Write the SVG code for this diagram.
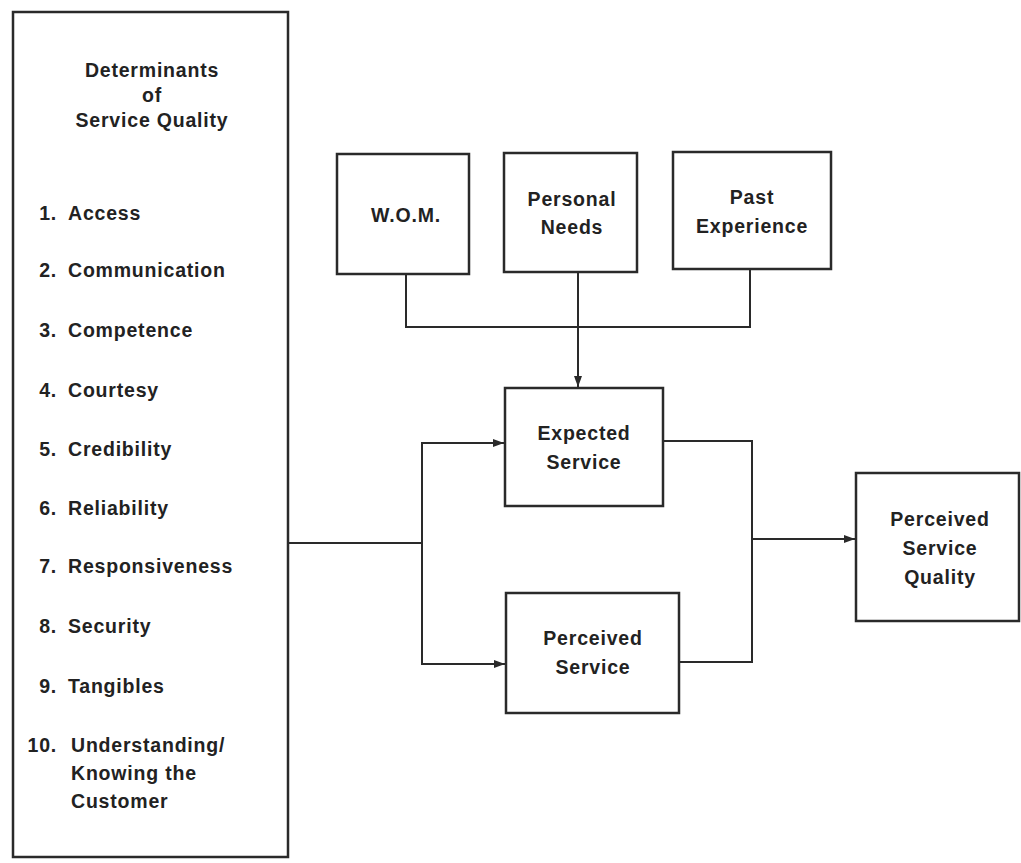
<svg xmlns="http://www.w3.org/2000/svg" width="1021" height="863" viewBox="0 0 1021 863">
  <style>
    .box { fill: #ffffff; stroke: #2a2a2a; stroke-width: 2.5; }
    .wire { fill: none; stroke: #2a2a2a; stroke-width: 2; }
    text { font-family: "Liberation Sans", Arial, Helvetica, sans-serif; font-weight: bold; font-size: 19.5px; fill: #222; letter-spacing: 0.8px; }
    .c { text-anchor: middle; }
    .n { text-anchor: end; }
  </style>
  <defs>
    <marker id="arrow" viewBox="0 0 11 8" refX="11" refY="4" markerWidth="11" markerHeight="8" markerUnits="userSpaceOnUse" orient="auto">
      <path d="M0,0 L11,4 L0,8 Z" fill="#2a2a2a"/>
    </marker>
  </defs>
  <rect width="1021" height="863" fill="#ffffff"/>

  <!-- Determinants list -->
  <g id="determinants">
    <rect class="box" x="13" y="12" width="275" height="845"/>
    <text class="c" x="152" y="77">Determinants</text>
    <text class="c" x="152" y="102">of</text>
    <text class="c" x="152" y="127">Service Quality</text>
    <text class="n" x="57" y="220">1.</text><text x="68" y="220">Access</text>
    <text class="n" x="57" y="277">2.</text><text x="68" y="277">Communication</text>
    <text class="n" x="57" y="337">3.</text><text x="68" y="337">Competence</text>
    <text class="n" x="57" y="397">4.</text><text x="68" y="397">Courtesy</text>
    <text class="n" x="57" y="456">5.</text><text x="68" y="456">Credibility</text>
    <text class="n" x="57" y="515">6.</text><text x="68" y="515">Reliability</text>
    <text class="n" x="57" y="573">7.</text><text x="68" y="573">Responsiveness</text>
    <text class="n" x="57" y="633">8.</text><text x="68" y="633">Security</text>
    <text class="n" x="57" y="693">9.</text><text x="68" y="693">Tangibles</text>
    <text class="n" x="57" y="752">10.</text><text x="71" y="752">Understanding/</text>
    <text x="71" y="780">Knowing the</text>
    <text x="71" y="808">Customer</text>
  </g>

  <g id="wom">
    <rect class="box" x="337" y="154" width="132" height="120"/>
    <text class="c" x="406" y="222">W.O.M.</text>
  </g>

  <g id="personal-needs">
    <rect class="box" x="504" y="153" width="133" height="119"/>
    <text class="c" x="572" y="206">Personal</text>
    <text class="c" x="572" y="234">Needs</text>
  </g>

  <g id="past-experience">
    <rect class="box" x="673" y="152" width="158" height="117"/>
    <text class="c" x="752" y="204">Past</text>
    <text class="c" x="752" y="233">Experience</text>
  </g>

  <g id="expected-service">
    <rect class="box" x="505" y="388" width="158" height="118"/>
    <text class="c" x="584" y="440">Expected</text>
    <text class="c" x="584" y="469">Service</text>
  </g>

  <g id="perceived-service">
    <rect class="box" x="506" y="593" width="173" height="120"/>
    <text class="c" x="593" y="645">Perceived</text>
    <text class="c" x="593" y="674">Service</text>
  </g>

  <g id="perceived-service-quality">
    <rect class="box" x="856" y="473" width="163" height="148"/>
    <text class="c" x="940" y="526">Perceived</text>
    <text class="c" x="940" y="555">Service</text>
    <text class="c" x="940" y="584">Quality</text>
  </g>

  <g id="connectors">
    <!-- expectation sources merge into expected service -->
    <polyline class="wire" points="406,274 406,327 750,327 750,269"/>
    <line class="wire" x1="578" y1="272" x2="578" y2="387" marker-end="url(#arrow)"/>
    <!-- determinants feed both expected and perceived service -->
    <polyline class="wire" points="288,543 422,543"/>
    <polyline class="wire" points="504,443 422,443 422,664 505,664"/>
    <line class="wire" x1="480" y1="443" x2="504" y2="443" marker-end="url(#arrow)"/>
    <line class="wire" x1="480" y1="664" x2="505" y2="664" marker-end="url(#arrow)"/>
    <!-- both services combine into perceived service quality -->
    <polyline class="wire" points="663,441 752,441 752,662 679,662"/>
    <line class="wire" x1="752" y1="539" x2="855" y2="539" marker-end="url(#arrow)"/>
  </g>
</svg>
